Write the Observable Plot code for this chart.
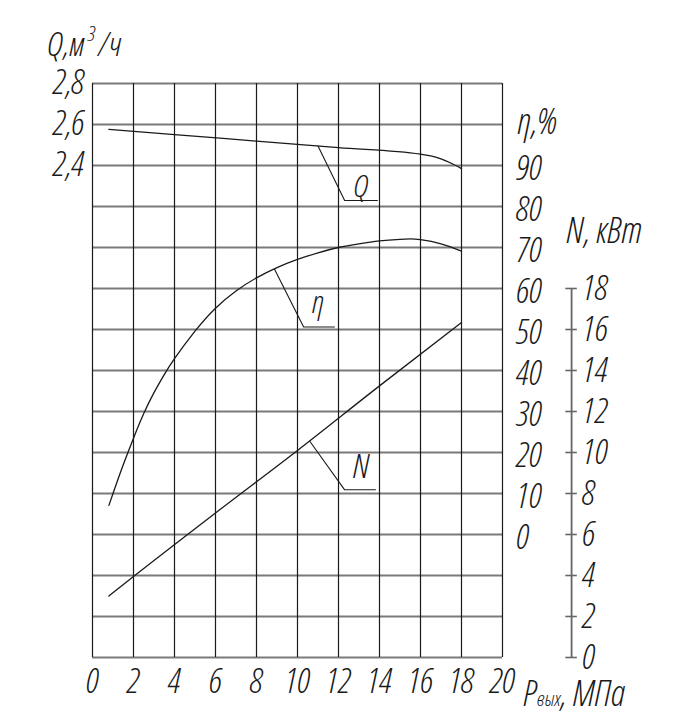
<!DOCTYPE html>
<html><head><meta charset="utf-8">
<script src="https://cdn.jsdelivr.net/npm/d3@7"></script>
<script src="https://cdn.jsdelivr.net/npm/@observablehq/plot@0.6"></script>
<style>
html,body{margin:0;padding:0;background:#fff}
svg text{font-family:'Open Sans',sans-serif;font-style:italic;font-weight:300;font-stretch:87.5%}
</style></head><body><div id="chart"></div>
<script>
// --- tick / grid values ---
const pTicks = [0, 2, 4, 6, 8, 10, 12, 14, 16, 18, 20];            // Pвых, МПа
const qGrid = [0, 0.2, 0.4, 0.6, 0.8, 1.0, 1.2, 1.4, 1.6, 1.8, 2.0, 2.2, 2.4, 2.6, 2.8];
const qTicks = [2.4, 2.6, 2.8];                                      // Q, м3/ч
const etaTicks = [0, 10, 20, 30, 40, 50, 60, 70, 80, 90];             // η, %
const nTicks = [0, 2, 4, 6, 8, 10, 12, 14, 16, 18];                   // N, кВт

// --- curves ---
const qP   = [0.8, 4, 8, 12, 16, 16.5, 17, 17.5, 18];
const qVal = [2.576, 2.551, 2.519, 2.487, 2.455, 2.447, 2.432, 2.411, 2.385];

const etaP   = [0.8, 1, 1.5, 2, 2.5, 3, 3.5, 4, 5, 6, 7, 8, 9, 10, 11, 12, 13, 14, 15, 15.5, 16, 17, 18];
const etaVal = [7.1, 10.0, 17.0, 23.5, 29.5, 34.6, 39.0, 42.9, 49.6, 55.2, 59.4, 62.6, 65.1, 67.1, 68.7, 70.0, 70.9, 71.6, 72.0, 72.1, 71.9, 70.9, 69.1];

const nP   = [0.8, 2, 6, 10, 14, 18];
const nVal = [3.0, 3.95, 7.05, 10.1, 13.25, 16.34];

// --- leader lines and curve labels ---
const qLeaderP = [11, 12.3, 13.9],   qLeaderV = [2.495, 2.229, 2.229];
const etaLeaderP = [8.88, 10.3, 11.8], etaLeaderV = [64.7, 50.6, 50.6];
const nLeaderP = [10.6, 12.3, 13.8], nLeaderV = [10.55, 8.18, 8.18];
const qLabel = {text: "Q", p: 13.1, v: 2.244};
const etaLabel = {text: "η", p: 11.0, v: 54.1};
const nLabel = {text: "N", p: 13.1, v: 8.78};

// position of the separate N axis, in pressure units
const N_AXIS_P = 23.37;

// all three quantities share one y scale expressed in Q units
const etaY = e => (e + 30) * 0.02;
const nY = n => n * 0.1;

const zip = (xs, ys, f) => xs.map((x, i) => ({x, y: f ? f(ys[i]) : ys[i]}));
const qData = zip(qP, qVal);
const etaData = zip(etaP, etaVal, etaY);
const nData = zip(nP, nVal, nY);
const qLead = zip(qLeaderP, qLeaderV);
const etaLead = zip(etaLeaderP, etaLeaderV, etaY);
const nLead = zip(nLeaderP, nLeaderV, nY);

const ink = "#1a1a1a";
const gridH = "#7a7a7a";
const FS = 35;

const svg = Plot.plot({
  width: 675,
  height: 727,
  marginLeft: 92,
  marginRight: 173,
  marginTop: 83,
  marginBottom: 70,
  style: "background:white;overflow:visible;font-family:'Open Sans',sans-serif;font-style:italic;font-weight:300;font-stretch:87.5%",
  x: {domain: [0, 20], axis: null},
  y: {domain: [0, 2.8], axis: null},
  marks: [
    Plot.ruleY(qGrid, {stroke: gridH, strokeWidth: 1.8}),
    Plot.ruleX(pTicks, {stroke: ink, strokeWidth: 1.2}),
    // curves
    Plot.line(qData, {x: "x", y: "y", curve: "monotone-x", stroke: ink, strokeWidth: 1.3}),
    Plot.line(etaData, {x: "x", y: "y", curve: "natural", stroke: ink, strokeWidth: 1.3}),
    Plot.line(nData, {x: "x", y: "y", curve: "monotone-x", stroke: ink, strokeWidth: 1.3}),
    // leaders
    Plot.line(qLead, {x: "x", y: "y", stroke: ink, strokeWidth: 1.1}),
    Plot.line(etaLead, {x: "x", y: "y", stroke: ink, strokeWidth: 1.1}),
    Plot.line(nLead, {x: "x", y: "y", stroke: ink, strokeWidth: 1.1}),
    Plot.text([qLabel], {x: "p", y: d => d.v, text: "text", lineAnchor: "bottom", fontSize: 32, fill: ink}),
    Plot.text([etaLabel], {x: "p", y: d => etaY(d.v), text: "text", lineAnchor: "bottom", fontSize: 32, fill: ink}),
    Plot.text([nLabel], {x: "p", y: d => nY(d.v), text: "text", lineAnchor: "bottom", fontSize: 34, fill: ink}),
    // x axis labels
    Plot.text(pTicks, {x: d => d, y: 0, text: d => String(d), dy: 35, lineAnchor: "bottom", fontSize: FS, fill: ink}),
    // Q axis labels
    Plot.text(qTicks, {x: 0, y: d => d, text: d => d.toFixed(1).replace(".", ","), textAnchor: "end", dx: -8, dy: -1, lineAnchor: "middle", fontSize: FS, fill: ink}),
    // eta axis labels
    Plot.text(etaTicks, {x: 20, y: d => etaY(d), text: d => String(d), textAnchor: "start", dx: 14, dy: 3, lineAnchor: "middle", fontSize: FS, fill: ink}),
    // N axis
    Plot.ruleX([N_AXIS_P], {y1: 0, y2: nY(18), stroke: "#666", strokeWidth: 1.8}),
    Plot.ruleY(nTicks, {y: d => nY(d), x1: N_AXIS_P - 0.28, x2: N_AXIS_P + 0.28, stroke: "#666", strokeWidth: 1.6}),
    Plot.text(nTicks, {x: N_AXIS_P, y: d => nY(d), text: d => String(d), textAnchor: "start", dx: 11, lineAnchor: "middle", fontSize: FS, fill: ink}),
    // axis titles
    Plot.text(["Q,м3/ч"], {x: 0, y: 2.8, text: d => d, dx: -45, dy: -28, textAnchor: "start", lineAnchor: "bottom", fontSize: 34, fill: ink}),
    Plot.text(["η,%"], {x: 20, y: etaY(90), text: d => d, dx: 15, dy: -32, textAnchor: "start", lineAnchor: "bottom", fontSize: 36, fill: ink}),
    Plot.text(["N, кВт"], {x: N_AXIS_P, y: nY(18), text: d => d, dx: -5, dy: -46, textAnchor: "start", lineAnchor: "bottom", fontSize: 36, fill: ink}),
    Plot.text(["Pвых, МПа"], {x: 20, y: 0, text: d => d, dx: 21, dy: 48, textAnchor: "start", lineAnchor: "bottom", fontSize: 36, fill: ink})
  ]
});

// superscript / subscript parts of the two compound titles
d3.select(svg).selectAll("text").each(function() {
  const t = this.textContent;
  const s = d3.select(this);
  if (t === "Q,м3/ч") {
    s.text(null);
    s.append("tspan").text("Q,м");
    s.append("tspan").attr("dx", 3).attr("dy", -15).attr("font-size", 21).text("3");
    s.append("tspan").attr("dx", 3).attr("dy", 15).text("/ч");
  } else if (t === "Pвых, МПа") {
    s.text(null);
    s.append("tspan").text("P");
    s.append("tspan").attr("font-size", 20).text("вых");
    s.append("tspan").text(", МПа");
  }
});

document.getElementById("chart").appendChild(svg);
</script>
</body></html>
